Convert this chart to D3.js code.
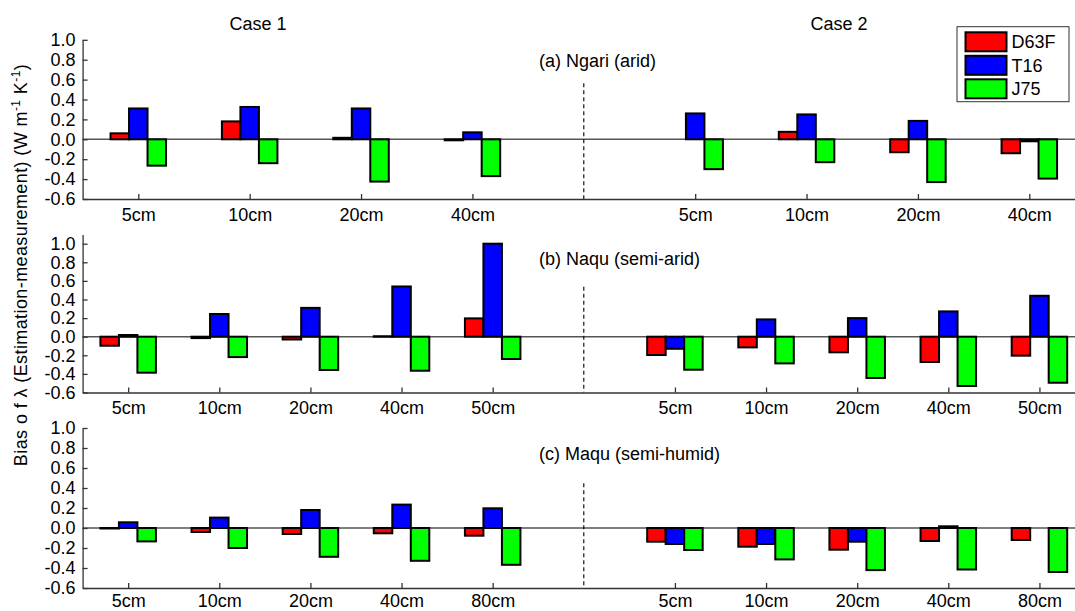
<!DOCTYPE html>
<html><head><meta charset="utf-8">
<script src="https://cdn.jsdelivr.net/npm/d3@7"></script>
<style>
body{margin:0;background:#fff;}
svg text{font-family:"Liberation Sans",Arial,Helvetica,sans-serif;}
</style></head><body>
<svg id="chart" width="1075" height="611"></svg>
<script>
// ---------------- DATA ----------------
const seriesNames = ["D63F", "T16", "J75"];
const caseLabels = ["Case 1", "Case 2"];
const yTickValues = [-0.6, -0.4, -0.2, 0.0, 0.2, 0.4, 0.6, 0.8, 1.0];
const panelTitles = ["(a) Ngari (arid)", "(b) Naqu (semi-arid)", "(c) Maqu (semi-humid)"];

// (a) Ngari
const ngariDepths = ["5cm", "10cm", "20cm", "40cm"];
const ngariCase1D63F = [0.06, 0.18, 0.015, -0.01];
const ngariCase1T16  = [0.31, 0.325, 0.31, 0.07];
const ngariCase1J75  = [-0.265, -0.24, -0.425, -0.37];
const ngariCase2D63F = [0.0, 0.075, -0.13, -0.14];
const ngariCase2T16  = [0.26, 0.25, 0.185, -0.02];
const ngariCase2J75  = [-0.30, -0.23, -0.43, -0.395];

// (b) Naqu
const naquDepths = ["5cm", "10cm", "20cm", "40cm", "50cm"];
const naquCase1D63F = [-0.097, -0.015, -0.03, 0.005, 0.197];
const naquCase1T16  = [0.018, 0.244, 0.31, 0.54, 1.0];
const naquCase1J75  = [-0.387, -0.219, -0.358, -0.366, -0.24];
const naquCase2D63F = [-0.197, -0.115, -0.168, -0.272, -0.204];
const naquCase2T16  = [-0.13, 0.186, 0.2, 0.272, 0.44];
const naquCase2J75  = [-0.355, -0.287, -0.444, -0.53, -0.495];

// (c) Maqu
const maquDepths = ["5cm", "10cm", "20cm", "40cm", "80cm"];
const maquCase1D63F = [-0.005, -0.04, -0.06, -0.053, -0.077];
const maquCase1T16  = [0.057, 0.104, 0.18, 0.234, 0.197];
const maquCase1J75  = [-0.134, -0.2, -0.288, -0.328, -0.368];
const maquCase2D63F = [-0.137, -0.187, -0.217, -0.13, -0.12];
const maquCase2T16  = [-0.16, -0.16, -0.137, 0.017, 0.0];
const maquCase2J75  = [-0.22, -0.314, -0.421, -0.415, -0.44];

// ---------------- STYLE / LAYOUT ----------------
const seriesColors = ["#ff0000", "#0000ff", "#00ff00"];
const FONT = 18;
const barW = 18.5;
const xLeft = 82.6, xRight = 1085;
const panels = [
  { depths: ngariDepths, title: panelTitles[0], yMax: 1.0, yBottom: 199, yTop: 39.8, dashTop: 0.563, titleY: 66.7, pad: 9,
    case1: [ngariCase1D63F, ngariCase1T16, ngariCase1J75], case2: [ngariCase2D63F, ngariCase2T16, ngariCase2J75] },
  { depths: naquDepths, title: panelTitles[1], yMax: 1.1, yBottom: 392.5, yTop: 234.4, dashTop: 0.538, titleY: 265, pad: 8.5,
    case1: [naquCase1D63F, naquCase1T16, naquCase1J75], case2: [naquCase2D63F, naquCase2T16, naquCase2J75] },
  { depths: maquDepths, title: panelTitles[2], yMax: 1.0, yBottom: 588, yTop: 428, dashTop: 0.447, titleY: 460, pad: 6,
    case1: [maquCase1D63F, maquCase1T16, maquCase1J75], case2: [maquCase2D63F, maquCase2T16, maquCase2J75] }
];

const svg = d3.select("#chart");

panels.forEach(p => {
  const n = p.depths.length;
  const g = svg.append("g");
  const x = d3.scaleLinear().domain([0.5, 2 * n + 1.5]).range([xLeft, xRight]);
  const y = d3.scaleLinear().domain([-0.6, p.yMax]).range([p.yBottom, p.yTop]);

  const groups = [];
  p.depths.forEach((d, i) => groups.push({ pos: i + 1, label: d, vals: p.case1.map(s => s[i]) }));
  p.depths.forEach((d, i) => groups.push({ pos: n + 2 + i, label: d, vals: p.case2.map(s => s[i]) }));

  // zero line
  g.append("line")
    .attr("x1", x(0.5)).attr("x2", x(2 * n + 1.5))
    .attr("y1", y(0)).attr("y2", y(0))
    .attr("stroke", "#555").attr("stroke-width", 1.4);

  // dashed separator
  g.append("line")
    .attr("x1", x(n + 1)).attr("x2", x(n + 1))
    .attr("y1", y(p.dashTop)).attr("y2", y(-0.6))
    .attr("stroke", "#000").attr("stroke-width", 1.1)
    .attr("stroke-dasharray", "4,3");

  // bars
  groups.forEach(gr => {
    gr.vals.forEach((v, si) => {
      const cx = x(gr.pos) + (si - 1) * barW;
      g.append("rect")
        .attr("x", cx - barW / 2)
        .attr("width", barW)
        .attr("y", y(Math.max(0, v)))
        .attr("height", Math.abs(y(v) - y(0)))
        .attr("fill", seriesColors[si])
        .attr("stroke", "#000")
        .attr("stroke-width", 2);
    });
  });

  // y axis
  const ya = g.append("g").attr("transform", `translate(${xLeft},0)`)
    .call(d3.axisLeft(y).tickValues(yTickValues)
      .tickFormat(d => d.toFixed(1))
      .tickSizeInner(-5).tickSizeOuter(0).tickPadding(7));
  // x axis
  const xa = g.append("g").attr("transform", `translate(0,${p.yBottom})`)
    .call(d3.axisBottom(x).tickValues(groups.map(gr => gr.pos))
      .tickFormat((d, i) => groups[i].label)
      .tickSizeInner(-5).tickSizeOuter(0).tickPadding(p.pad));
  [ya, xa].forEach(a => {
    a.attr("font-family", null).attr("font-size", null);
    a.selectAll("path,line").attr("stroke", "#333").attr("stroke-width", 1.3);
    a.selectAll("text").attr("fill", "#000").style("font-size", FONT + "px");
  });

  // panel title
  g.append("text").attr("x", 539).attr("y", p.titleY)
    .style("font-size", FONT + "px").text(p.title);
});

// case labels
svg.append("text").attr("x", 258).attr("y", 30).attr("text-anchor", "middle")
  .style("font-size", FONT + "px").text(caseLabels[0]);
svg.append("text").attr("x", 839).attr("y", 30).attr("text-anchor", "middle")
  .style("font-size", FONT + "px").text(caseLabels[1]);

// legend
const lg = svg.append("g");
lg.append("rect").attr("x", 957).attr("y", 26.7).attr("width", 112).attr("height", 75)
  .attr("fill", "#fff").attr("stroke", "#333").attr("stroke-width", 1);
seriesNames.forEach((s, i) => {
  const yy = 32.3 + i * 23.5;
  lg.append("rect").attr("x", 965.5).attr("y", yy).attr("width", 41).attr("height", 19)
    .attr("fill", seriesColors[i]).attr("stroke", "#000").attr("stroke-width", 2);
  lg.append("text").attr("x", 1011.5).attr("y", yy + 16).style("font-size", FONT + "px").text(s);
});

// y label
const yl = svg.append("text")
  .attr("transform", "translate(27,265) rotate(-90)")
  .attr("text-anchor", "middle")
  .style("font-size", FONT + "px")
  .style("letter-spacing", "0.4px");
yl.append("tspan").text("Bias o f \u03bb (Estimation-measurement) (W m");
yl.append("tspan").attr("dy", -7).style("font-size", "12px").text("-1");
yl.append("tspan").attr("dy", 7).text(" K");
yl.append("tspan").attr("dy", -7).style("font-size", "12px").text("-1");
yl.append("tspan").attr("dy", 7).text(")");
</script>
</body></html>
